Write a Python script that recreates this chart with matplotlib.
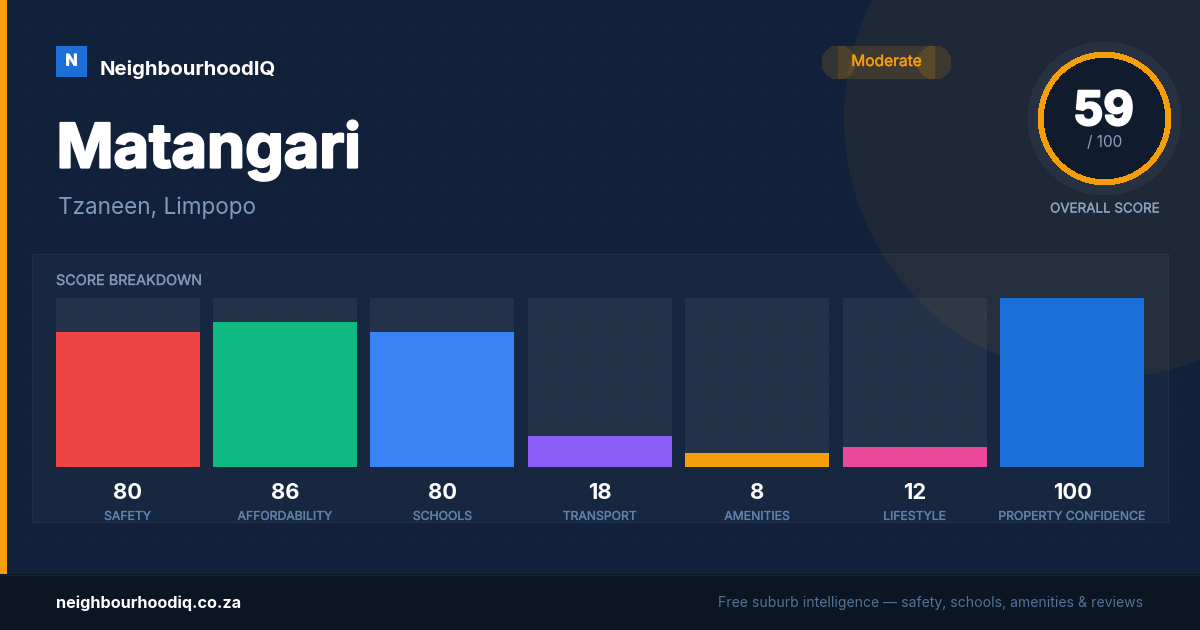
import matplotlib
matplotlib.use("Agg")
import matplotlib.pyplot as plt
import numpy as np
from matplotlib.patches import Rectangle, Circle
from matplotlib import patheffects as pe

plt.rcParams['font.family'] = ['Inter', 'DejaVu Sans']

categories = ["SAFETY", "AFFORDABILITY", "SCHOOLS", "TRANSPORT", "AMENITIES", "LIFESTYLE", "PROPERTY CONFIDENCE"]
values = [80, 86, 80, 18, 8, 12, 100]
colors = ["#EF4444", "#10B981", "#3B82F6", "#8B5CF6", "#F59E0B", "#EC4899", "#1D6FD8"]
max_score = 100
overall = 59
suburb = "Matangari"
region = "Tzaneen, Limpopo"

W, H = 1200, 630
fig = plt.figure(figsize=(12, 6.3), dpi=100, facecolor="#11213A")
bg = fig.add_axes([0, 0, 1, 1])
bg.set_xlim(0, W); bg.set_ylim(H, 0); bg.axis("off")

def px(s):
    return s * 0.72

def thick(w, c):
    return [pe.withStroke(linewidth=w, foreground=c)]

ORANGE = "#F59E0B"
# dot grid
dx, dy = np.meshgrid(np.arange(24.5, W, 32), np.arange(24.5, 574, 32))
bg.scatter(dx.ravel(), dy.ravel(), s=2.2, color="#1E3A5F", alpha=0.35, linewidths=0, zorder=1)
# big circle
bg.add_patch(Circle((1104, 118), 260, color=ORANGE, alpha=0.06, lw=0, zorder=2))
# panel
bg.add_patch(Rectangle((32, 254), 1136, 268, facecolor=(1, 1, 1, 0.03), edgecolor=(1, 1, 1, 0.06), lw=0.72, zorder=3))
# accent stripe and footer
bg.add_patch(Rectangle((0, 0), 7, 574, color=ORANGE, lw=0, zorder=4))
bg.add_patch(Rectangle((0, 574), W, 56, color="#0B1524", lw=0, zorder=4))
bg.plot([0, W], [574.5, 574.5], color="#162131", lw=0.72, zorder=5)
# logo
bg.add_patch(Rectangle((56, 46), 31, 31, color="#1D6FD8", lw=0, zorder=4))
bg.text(71.5, 61, "N", color="white", fontsize=px(16), fontweight="bold", ha="center", va="center", zorder=6,
        path_effects=thick(0.5, "white"))
bg.text(100, 75, "NeighbourhoodIQ", color="white", fontsize=px(20.35), fontweight="bold", ha="left", va="baseline", zorder=6)
bg.text(56.5, 167.5, suburb, color="white", fontsize=px(61.2), fontweight="bold", ha="left", va="baseline", zorder=6,
        path_effects=thick(1.6, "white"))
bg.text(58, 214, region, color="#7F9ABA", fontsize=px(22.5), ha="left", va="baseline", zorder=6)
bg.text(56, 285, "SCORE BREAKDOWN", color="#8097B4", fontsize=px(14.4), ha="left", va="baseline", zorder=6,
        path_effects=thick(0.25, "#8097B4"))
# pill
for cx in (838.5, 934.5):
    bg.add_patch(Circle((cx, 62.5), 16.5, color=ORANGE, alpha=0.15, lw=0, zorder=4, antialiased=False))
bg.add_patch(Rectangle((838, 46), 97, 33, color=ORANGE, alpha=0.15, lw=0, zorder=4))
bg.text(886.5, 61.5, "Moderate", color=ORANGE, fontsize=px(15.5), ha="center", va="center", zorder=6,
        path_effects=thick(0.3, ORANGE))
# gauge
gx, gy = 1104.5, 118.5
bg.add_patch(Circle((gx, gy), 76.5, color="#283142", lw=0, zorder=4, antialiased=False))
bg.add_patch(Circle((gx, gy), 66.2, color=ORANGE, lw=0, zorder=5, antialiased=False))
bg.add_patch(Circle((gx, gy), 60.2, color="#101B2E", lw=0, zorder=5, antialiased=False))
bg.text(gx - 1, 125, str(overall), color="white", fontsize=px(47), fontweight="bold", ha="center", va="baseline", zorder=6,
        path_effects=thick(1.6, "white"))
bg.text(gx, 147, "/ 100", color="#8AA0BD", fontsize=px(15.3), ha="center", va="baseline", zorder=6)
bg.text(gx, 212.5, "OVERALL SCORE", color="#8AA3BF", fontsize=px(13.4), ha="center", va="baseline", zorder=6,
        path_effects=thick(0.2, "#8AA3BF"))
# footer text
bg.text(56, 608, "neighbourhoodiq.co.za", color="white", fontsize=px(16.25), fontweight="bold", ha="left", va="baseline", zorder=6)
bg.text(1143, 607, "Free suburb intelligence \u2014 safety, schools, amenities & reviews", color="#527399", fontsize=px(14.0),
        ha="right", va="baseline", zorder=6)

# bars
left, pitch, bar_w = 55.6, 157.4, 144
base = 466.88
ax = fig.add_axes([left / W, 1 - base / H, (6 * pitch + bar_w) / W, 169 / H])
ax.patch.set_alpha(0)
ax.axis("off")
x = np.arange(len(categories))
half = (bar_w / 2) / pitch
ax.set_xlim(-half, len(categories) - 1 + half)
ax.set_ylim(0, max_score)
ax.bar(x, [max_score] * len(x), width=bar_w / pitch, color=(1, 1, 1, 0.05), linewidth=0)
ax.bar(x, values, width=bar_w / pitch, color=colors, linewidth=0)
for i, (c, v) in enumerate(zip(categories, values)):
    ax.text(i, -15.7, str(v), color="white", fontsize=px(22), fontweight="bold", ha="center", va="center")
    ax.text(i, -29.6, c, color="#5F81AA", fontsize=px(12.2), ha="center", va="center",
            path_effects=thick(0.25, "#5F81AA"))

fig.savefig("out.png", dpi=100, facecolor=fig.get_facecolor())
